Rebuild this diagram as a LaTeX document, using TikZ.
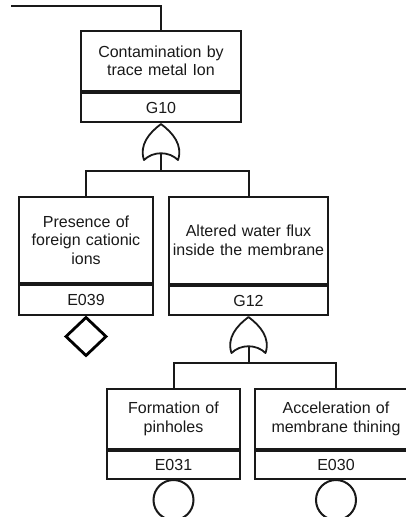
\documentclass[tikz,border=0pt]{standalone}
\usepackage{fontspec}
\setmainfont{Liberation Sans}
\usetikzlibrary{shapes.geometric}
\begin{document}
\begin{tikzpicture}[x=1pt,y=-1pt,
  lw/.style={line width=2pt, draw=black!90},
  box/.style={lw, rectangle, inner sep=0pt, align=center,
    font=\fontsize{16}{18.5}\selectfont, text=black!90},
  evtop/.style={box, minimum width=#1, text width=#1-5pt},
  gatepath/.style={line width=1.8pt, draw=black!90, line join=round},
  basic/.style={lw, circle, minimum size=40pt, inner sep=0pt, outer sep=0pt, anchor=north},
  undev/.style={line width=2.8pt, draw=black, diamond, minimum width=40pt,
    minimum height=38pt, inner sep=0pt, outer sep=0pt, anchor=north}]
\useasboundingbox (0,0) rectangle (406,517);
\clip (0,0) rectangle (406,517);

% G10
\node[evtop=160pt, minimum height=60pt, anchor=north west] (g10t) at (80,30) {Contamination by\\trace metal Ion};
\node[evtop=160pt, minimum height=29pt, anchor=north] (g10l) at (g10t.south) {G10};

% E039
\node[evtop=134pt, minimum height=86pt, anchor=north west] (e039t) at (18,196) {Presence of\\foreign cationic\\ions};
\node[evtop=134pt, minimum height=30pt, anchor=north] (e039l) at (e039t.south) {E039};
\node[undev] (e039d) at ([yshift=-1.5pt]e039l.south) {};

% G12
\node[evtop=159pt, minimum height=87pt, anchor=north west] (g12t) at (168,196) {Altered water flux\\inside the membrane};
\node[evtop=159pt, minimum height=29pt, anchor=north] (g12l) at (g12t.south) {G12};

% E031
\node[evtop=133pt, minimum height=60pt, anchor=north west] (e031t) at (106,388) {Formation of\\pinholes};
\node[evtop=133pt, minimum height=28pt, anchor=north] (e031l) at (e031t.south) {E031};
\node[basic] (e031c) at (e031l.south) {};

% E030
\node[evtop=162pt, minimum height=60pt, anchor=north west] (e030t) at (254,388) {Acceleration of\\membrane thining};
\node[evtop=162pt, minimum height=28pt, anchor=north] (e030l) at (e030t.south) {E030};
\node[basic] (e030c) at (e030l.south) {};

% OR gates
\begin{scope}[shift={(g10l.south)}]
  \draw[gatepath] (0,1) .. controls (-12,10) and (-22,22) .. (-17,37)
    .. controls (-8,28) and (8,28) .. (17,37)
    .. controls (22,22) and (12,10) .. (0,1) -- cycle;
  \coordinate (g10o) at (0,30);
\end{scope}
\begin{scope}[shift={(g12l.south)}]
  \draw[gatepath] (0,1) .. controls (-12,10) and (-22,22) .. (-17,37)
    .. controls (-8,28) and (8,28) .. (17,37)
    .. controls (22,22) and (12,10) .. (0,1) -- cycle;
  \coordinate (g12o) at (0,30);
\end{scope}

% connectors
\coordinate (start) at (11,6);
\draw[lw] (start) -| (g10t.north);

\coordinate (g10bus) at (g10o |- 0,171);
\draw[lw] (g10o) -- (g10bus);
\draw[lw] (e039t.north) |- (g10bus) -| (g12t.north);

\coordinate (g12bus) at (g12o |- 0,363);
\draw[lw] (g12o) -- (g12bus);
\draw[lw] (e031t.north) |- (g12bus) -| (e030t.north);
\end{tikzpicture}
\end{document}
